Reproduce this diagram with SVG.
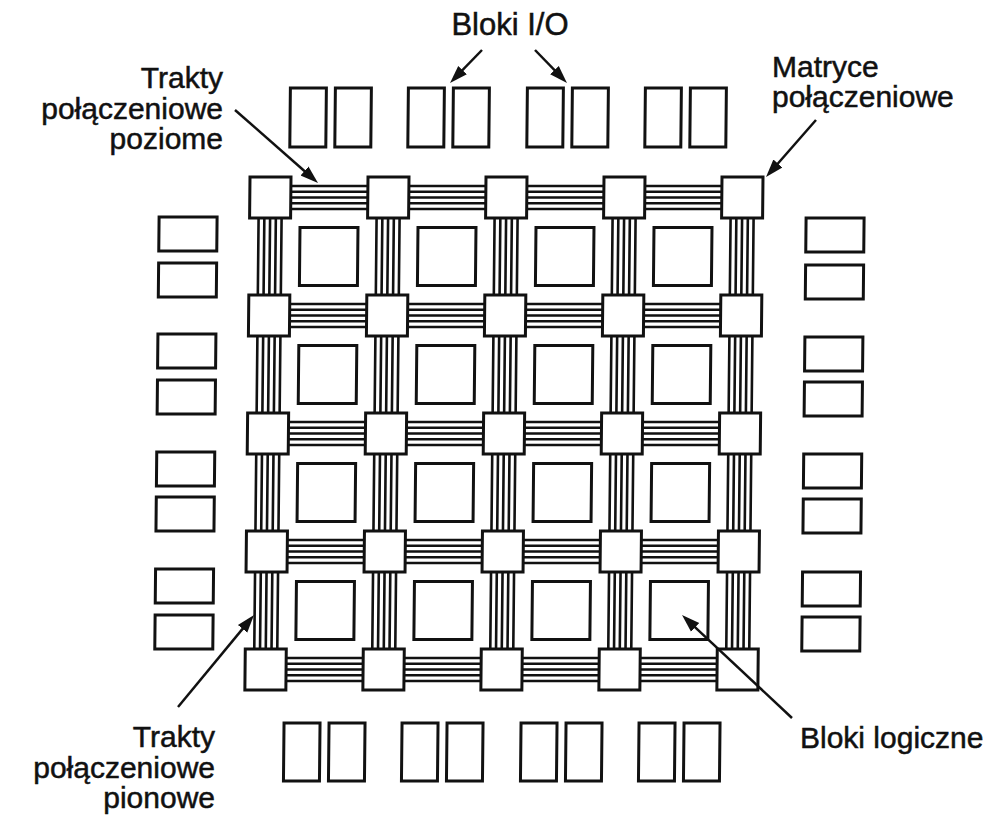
<svg xmlns="http://www.w3.org/2000/svg" xmlns:xlink="http://www.w3.org/1999/xlink" width="1008" height="816" viewBox="0 0 1008 816">
<style>
.sw{fill:#fff;stroke:#111;stroke-width:3}
.lb{fill:#fff;stroke:#111;stroke-width:3}
.io{fill:#fff;stroke:#111;stroke-width:3}
.tr{fill:none;stroke:#111;stroke-width:2.6}
.ar{fill:none;stroke:#111;stroke-width:2.5;marker-end:url(#ah)}
.t{font-family:"Liberation Sans",Arial,Helvetica,sans-serif;font-size:30px;fill:#111;stroke:#111;stroke-width:0.5}
</style>
<defs>
<marker id="ah" markerWidth="20" markerHeight="14" refX="12" refY="7" orient="auto" markerUnits="userSpaceOnUse"><path d="M0,1 L18,7 L0,13 Z" fill="#111"/></marker>
<path id="ht" class="tr" d="M-1,-11.5h79M-1,-5.75h79M-1,0h79M-1,5.75h79M-1,11.5h79"/>
<path id="vt" class="tr" d="M-11.5,-1v79M-5.75,-1v79M0,-1v79M5.75,-1v79M11.5,-1v79"/>
</defs>
<rect width="1008" height="816" fill="#fff"/>
<g transform="translate(1.77,0) skewX(-0.573)">
<g id="connectors">
<use xlink:href="#ht" x="291" y="197.5"/><use xlink:href="#ht" x="409" y="197.5"/><use xlink:href="#ht" x="527" y="197.5"/><use xlink:href="#ht" x="645" y="197.5"/>
<use xlink:href="#ht" x="291" y="315.5"/><use xlink:href="#ht" x="409" y="315.5"/><use xlink:href="#ht" x="527" y="315.5"/><use xlink:href="#ht" x="645" y="315.5"/>
<use xlink:href="#ht" x="291" y="433.5"/><use xlink:href="#ht" x="409" y="433.5"/><use xlink:href="#ht" x="527" y="433.5"/><use xlink:href="#ht" x="645" y="433.5"/>
<use xlink:href="#ht" x="291" y="551.5"/><use xlink:href="#ht" x="409" y="551.5"/><use xlink:href="#ht" x="527" y="551.5"/><use xlink:href="#ht" x="645" y="551.5"/>
<use xlink:href="#ht" x="291" y="669.5"/><use xlink:href="#ht" x="409" y="669.5"/><use xlink:href="#ht" x="527" y="669.5"/><use xlink:href="#ht" x="645" y="669.5"/>
<use xlink:href="#vt" x="270.5" y="218"/><use xlink:href="#vt" x="270.5" y="336"/><use xlink:href="#vt" x="270.5" y="454"/><use xlink:href="#vt" x="270.5" y="572"/>
<use xlink:href="#vt" x="388.5" y="218"/><use xlink:href="#vt" x="388.5" y="336"/><use xlink:href="#vt" x="388.5" y="454"/><use xlink:href="#vt" x="388.5" y="572"/>
<use xlink:href="#vt" x="506.5" y="218"/><use xlink:href="#vt" x="506.5" y="336"/><use xlink:href="#vt" x="506.5" y="454"/><use xlink:href="#vt" x="506.5" y="572"/>
<use xlink:href="#vt" x="624.5" y="218"/><use xlink:href="#vt" x="624.5" y="336"/><use xlink:href="#vt" x="624.5" y="454"/><use xlink:href="#vt" x="624.5" y="572"/>
<use xlink:href="#vt" x="742.5" y="218"/><use xlink:href="#vt" x="742.5" y="336"/><use xlink:href="#vt" x="742.5" y="454"/><use xlink:href="#vt" x="742.5" y="572"/>
</g>
<g id="switches">
<g id="sw-0-0"><rect class="sw" x="250" y="177" width="41" height="41"/></g>
<g id="sw-1-0"><rect class="sw" x="368" y="177" width="41" height="41"/></g>
<g id="sw-2-0"><rect class="sw" x="486" y="177" width="41" height="41"/></g>
<g id="sw-3-0"><rect class="sw" x="604" y="177" width="41" height="41"/></g>
<g id="sw-4-0"><rect class="sw" x="722" y="177" width="41" height="41"/></g>
<g id="sw-0-1"><rect class="sw" x="250" y="295" width="41" height="41"/></g>
<g id="sw-1-1"><rect class="sw" x="368" y="295" width="41" height="41"/></g>
<g id="sw-2-1"><rect class="sw" x="486" y="295" width="41" height="41"/></g>
<g id="sw-3-1"><rect class="sw" x="604" y="295" width="41" height="41"/></g>
<g id="sw-4-1"><rect class="sw" x="722" y="295" width="41" height="41"/></g>
<g id="sw-0-2"><rect class="sw" x="250" y="413" width="41" height="41"/></g>
<g id="sw-1-2"><rect class="sw" x="368" y="413" width="41" height="41"/></g>
<g id="sw-2-2"><rect class="sw" x="486" y="413" width="41" height="41"/></g>
<g id="sw-3-2"><rect class="sw" x="604" y="413" width="41" height="41"/></g>
<g id="sw-4-2"><rect class="sw" x="722" y="413" width="41" height="41"/></g>
<g id="sw-0-3"><rect class="sw" x="250" y="531" width="41" height="41"/></g>
<g id="sw-1-3"><rect class="sw" x="368" y="531" width="41" height="41"/></g>
<g id="sw-2-3"><rect class="sw" x="486" y="531" width="41" height="41"/></g>
<g id="sw-3-3"><rect class="sw" x="604" y="531" width="41" height="41"/></g>
<g id="sw-4-3"><rect class="sw" x="722" y="531" width="41" height="41"/></g>
<g id="sw-0-4"><rect class="sw" x="250" y="649" width="41" height="41"/></g>
<g id="sw-1-4"><rect class="sw" x="368" y="649" width="41" height="41"/></g>
<g id="sw-2-4"><rect class="sw" x="486" y="649" width="41" height="41"/></g>
<g id="sw-3-4"><rect class="sw" x="604" y="649" width="41" height="41"/></g>
<g id="sw-4-4"><rect class="sw" x="722" y="649" width="41" height="41"/></g>
</g>
<g id="logic">
<g id="lb-0-0"><rect class="lb" x="300.5" y="227.5" width="58" height="58"/></g>
<g id="lb-1-0"><rect class="lb" x="418.5" y="227.5" width="58" height="58"/></g>
<g id="lb-2-0"><rect class="lb" x="536.5" y="227.5" width="58" height="58"/></g>
<g id="lb-3-0"><rect class="lb" x="654.5" y="227.5" width="58" height="58"/></g>
<g id="lb-0-1"><rect class="lb" x="300.5" y="345.5" width="58" height="58"/></g>
<g id="lb-1-1"><rect class="lb" x="418.5" y="345.5" width="58" height="58"/></g>
<g id="lb-2-1"><rect class="lb" x="536.5" y="345.5" width="58" height="58"/></g>
<g id="lb-3-1"><rect class="lb" x="654.5" y="345.5" width="58" height="58"/></g>
<g id="lb-0-2"><rect class="lb" x="300.5" y="463.5" width="58" height="58"/></g>
<g id="lb-1-2"><rect class="lb" x="418.5" y="463.5" width="58" height="58"/></g>
<g id="lb-2-2"><rect class="lb" x="536.5" y="463.5" width="58" height="58"/></g>
<g id="lb-3-2"><rect class="lb" x="654.5" y="463.5" width="58" height="58"/></g>
<g id="lb-0-3"><rect class="lb" x="300.5" y="581.5" width="58" height="58"/></g>
<g id="lb-1-3"><rect class="lb" x="418.5" y="581.5" width="58" height="58"/></g>
<g id="lb-2-3"><rect class="lb" x="536.5" y="581.5" width="58" height="58"/></g>
<g id="lb-3-3"><rect class="lb" x="654.5" y="581.5" width="58" height="58"/></g>
</g>
<g id="io-top">
<g id="io-t1"><rect class="io" x="289.5" y="88" width="36" height="59"/></g>
<g id="io-t2"><rect class="io" x="334.5" y="88" width="36" height="59"/></g>
<g id="io-t3"><rect class="io" x="407.5" y="88" width="36" height="59"/></g>
<g id="io-t4"><rect class="io" x="452.5" y="88" width="36" height="59"/></g>
<g id="io-t5"><rect class="io" x="526.5" y="88" width="36" height="59"/></g>
<g id="io-t6"><rect class="io" x="571.5" y="88" width="36" height="59"/></g>
<g id="io-t7"><rect class="io" x="644.5" y="88" width="36" height="59"/></g>
<g id="io-t8"><rect class="io" x="689.5" y="88" width="36" height="59"/></g>
</g>
<g id="io-bottom">
<g id="io-b1"><rect class="io" x="289.5" y="723" width="36" height="58"/></g>
<g id="io-b2"><rect class="io" x="334.5" y="723" width="36" height="58"/></g>
<g id="io-b3"><rect class="io" x="407.5" y="723" width="36" height="58"/></g>
<g id="io-b4"><rect class="io" x="452.5" y="723" width="36" height="58"/></g>
<g id="io-b5"><rect class="io" x="526.5" y="723" width="36" height="58"/></g>
<g id="io-b6"><rect class="io" x="571.5" y="723" width="36" height="58"/></g>
<g id="io-b7"><rect class="io" x="644.5" y="723" width="36" height="58"/></g>
<g id="io-b8"><rect class="io" x="689.5" y="723" width="36" height="58"/></g>
</g>
<g id="io-left">
<g id="io-l1"><rect class="io" x="159.5" y="217" width="58" height="34"/></g>
<g id="io-l2"><rect class="io" x="159.5" y="263" width="58" height="34"/></g>
<g id="io-l3"><rect class="io" x="159.5" y="334" width="58" height="34"/></g>
<g id="io-l4"><rect class="io" x="159.5" y="380" width="58" height="34"/></g>
<g id="io-l5"><rect class="io" x="159.5" y="452" width="58" height="34"/></g>
<g id="io-l6"><rect class="io" x="159.5" y="497" width="58" height="34"/></g>
<g id="io-l7"><rect class="io" x="159.5" y="569" width="58" height="34"/></g>
<g id="io-l8"><rect class="io" x="159.5" y="615" width="58" height="34"/></g>
</g>
<g id="io-right">
<g id="io-r1"><rect class="io" x="806.5" y="218" width="58" height="34"/></g>
<g id="io-r2"><rect class="io" x="806.5" y="265" width="58" height="34"/></g>
<g id="io-r3"><rect class="io" x="806.5" y="337" width="58" height="34"/></g>
<g id="io-r4"><rect class="io" x="806.5" y="382" width="58" height="34"/></g>
<g id="io-r5"><rect class="io" x="806.5" y="454" width="58" height="34"/></g>
<g id="io-r6"><rect class="io" x="806.5" y="499" width="58" height="34"/></g>
<g id="io-r7"><rect class="io" x="806.5" y="572" width="58" height="34"/></g>
<g id="io-r8"><rect class="io" x="806.5" y="617" width="58" height="34"/></g>
</g>
</g>
<g id="pointers">
<path class="ar" d="M482,50 L454.2,78.7"/>
<path class="ar" d="M535,50 L562.8,78.7"/>
<path class="ar" d="M235,110 L313.5,179"/>
<path class="ar" d="M816,120 L770,172.5"/>
<path class="ar" d="M178,707 L250.2,619.6"/>
<path class="ar" d="M792,718 L686.4,619.1"/>
</g>
<g id="labels">
<g id="lbl-io"><text class="t" x="510" y="35" text-anchor="middle" style="font-size:31px">Bloki I/O</text></g>
<g id="lbl-htracks"><text class="t" text-anchor="end"><tspan x="223" y="88">Trakty</tspan><tspan x="223" y="119">połączeniowe</tspan><tspan x="223" y="149">poziome</tspan></text></g>
<g id="lbl-matrix"><text class="t"><tspan x="772" y="77">Matryce</tspan><tspan x="772" y="107">połączeniowe</tspan></text></g>
<g id="lbl-vtracks"><text class="t" text-anchor="end"><tspan x="215" y="747">Trakty</tspan><tspan x="215" y="778">połączeniowe</tspan><tspan x="215" y="808">pionowe</tspan></text></g>
<g id="lbl-logic"><text class="t" x="800" y="748">Bloki logiczne</text></g>
</g>
</svg>
